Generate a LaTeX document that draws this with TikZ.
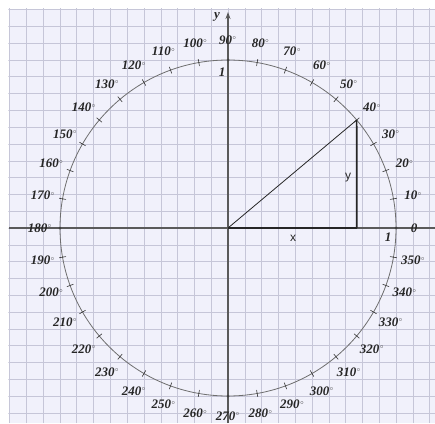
\documentclass[tikz,border=0pt]{standalone}
\usepackage{fontspec}
\setmainfont{Liberation Serif}
\setsansfont{Liberation Sans}
\usetikzlibrary{arrows.meta}
\definecolor{bgfill}{HTML}{F1F1FB}
\definecolor{gridcol}{HTML}{C6C6D8}
\definecolor{axiscol}{HTML}{5A5A5A}
\definecolor{circcol}{HTML}{6E6E6E}
\tikzset{
  deglabel/.style={font=\fontsize{13}{13}\selectfont\bfseries\itshape, text=black!85, inner sep=0pt},
  sidelabel/.style={font=\sffamily\fontsize{12}{12}\selectfont, text=black!85, inner sep=0pt},
  tickmark/.style={draw=black!80, line width=0.6pt},
  axisline/.style={draw=axiscol, line width=1.1pt},
  legline/.style={draw=black!85, line width=1.6pt},
}
\begin{document}
\begin{tikzpicture}[x=1pt,y=1pt]
\useasboundingbox (-228,-195) rectangle (207,228);
\clip (-228,-195) rectangle (207,228);
% background and grid
\fill[bgfill] (-219,-195) rectangle (207,219);
\begin{scope}
\clip (-219.5,-195) rectangle (207,219.5);
\foreach \k in {-13,...,12} {
  \draw[gridcol, line width=0.6pt] (\k*16.8,-195) -- (\k*16.8,219.5);
}
\foreach \k in {-11,...,13} {
  \draw[gridcol, line width=0.6pt] (-219.5,\k*16.8) -- (207,\k*16.8);
}
\end{scope}
% axes
\coordinate (O) at (0,0);
\coordinate (xl) at (-219,0);
\coordinate (xr) at (215,0);
\coordinate (yb) at (0,-195);
\coordinate (yt) at (0,216);
\draw[axisline, -{Stealth[length=7pt,width=5pt]}] (xl) -- (xr);
\draw[axisline, -{Stealth[length=7pt,width=5pt]}] (yb) -- (yt);
\node[deglabel] (ylab) at (-11,211) {y};
\node[deglabel] (xlab) at (211,-7) {x};
% circle
\draw[circcol, line width=0.8pt] (O) circle (168);
% ticks
\foreach \a in {10,20,...,80,100,110,...,170,190,200,...,260,280,290,...,350} {
  \draw[tickmark] (\a:164.5) -- (\a:171.5);
}
\foreach \a in {0,90,180,270} {
  \fill[black!75] (\a:168) circle (1.5);
}
% degree labels
\node[deglabel] (l0) at (0:186) {0};
\foreach \a in {10,20,...,350} {
  \node[deglabel] (l\a) at (\a:188) {\a\textsuperscript{\kern0.3pt$\scriptstyle\circ$}};
}
% unit labels
\node[deglabel] (one1) at (-6,156) {1};
\node[deglabel] (one2) at (160,-9) {1};
% triangle
\coordinate (P) at (40:168);
\coordinate (F) at (128.7,0);
\draw[black!85, line width=0.8pt] (O) -- (P);
\draw[legline] (P) -- (F);
\draw[legline] (O) -- (F);
\node[sidelabel] (xs) at (65,-10) {x};
\node[sidelabel] (ys) at (120,50) {y};
\end{tikzpicture}
\end{document}
